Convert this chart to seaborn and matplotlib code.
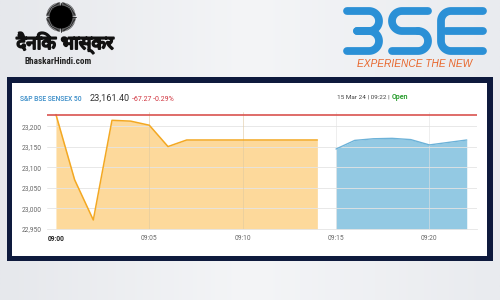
import numpy as np
import pandas as pd
import matplotlib
matplotlib.use("Agg")
import matplotlib.pyplot as plt
import matplotlib.patheffects as pe
import seaborn as sns
from matplotlib.patches import Rectangle, Circle

# ---------------- data ----------------
orange_minutes = [0, 1, 2, 3, 4, 5, 6, 7, 8, 9, 10, 11, 12, 13, 14]
orange_values = [23229, 23070, 22972, 23215, 23213, 23203, 23151, 23167,
                 23167, 23167, 23167, 23167, 23167, 23167, 23167]
blue_minutes = [15, 16, 17, 18, 19, 20, 21, 22]
blue_values = [23145, 23166, 23170, 23171, 23168, 23155, 23161, 23167]
prev_close = 23228.67
y_ticks = [22950, 23000, 23050, 23100, 23150, 23200]
y_tick_labels = ["22,950", "23,000", "23,050", "23,100", "23,150", "23,200"]
x_ticks = [0, 5, 10, 15, 20]
x_tick_labels = ["09:00", "09:05", "09:10", "09:15", "09:20"]
index_name = "S&P BSE SENSEX 50"
index_value = "23,161.40"
index_change = "-67.27 -0.29%"
timestamp = "15 Mar 24 | 09:22 |"
status = "Open"

sns.set_theme(style="white")
plt.rcParams['font.family'] = ['Roboto', 'DejaVu Sans']

W, H = 500, 300
fig = plt.figure(figsize=(5, 3), dpi=100)

# background / decoration axes in pixel coords
bg = fig.add_axes([0, 0, 1, 1])
bg.set_xlim(0, W)
bg.set_ylim(H, 0)
bg.axis("off")
grad = np.linspace(0, 1, 256)[None, :]
bg.imshow(grad, extent=[0, W, H, 0], cmap=matplotlib.colors.LinearSegmentedColormap.from_list(
    "g", ["#E6E8EC", "#F4F5F7", "#E9EBEF"]), aspect="auto", zorder=0)
bg.add_patch(Rectangle((7, 77), 486, 184, facecolor="#0E1A3D", edgecolor="none", zorder=1))
bg.add_patch(Rectangle((12, 83), 475, 173, facecolor="white", edgecolor="none", zorder=2))

# Dainik Bhaskar logo
cx, cy = 61, 17
for a in np.linspace(0, 2 * np.pi, 72, endpoint=False):
    bg.plot([cx + 10 * np.cos(a), cx + 14.5 * np.cos(a)], [cy + 10 * np.sin(a), cy + 14.5 * np.sin(a)],
            color="#000000", lw=0.55, zorder=3)
bg.add_patch(Circle((cx, cy), 11.5, facecolor="#000000", edgecolor="none", zorder=4))
bg.text(65, 43, "दैनिक भास्कर", fontsize=13.5, fontweight="bold", color="#111111",
        ha="center", va="center", zorder=4,
        family=['Noto Sans Devanagari', 'Lohit Devanagari', 'Noto Sans', 'DejaVu Sans'],
        path_effects=[pe.withStroke(linewidth=1.3, foreground="#111111")])
bg.text(58.5, 62, "BhaskarHindi.com", fontsize=6.6, fontweight="bold", color="#222222",
        ha="center", va="center", zorder=4, family=['Roboto Condensed', 'Roboto', 'DejaVu Sans'])

# BSE logo drawn with rounded strokes
blue_logo = "#2B90D6"
lw_logo = 5.6
def stroke(xs, ys):
    bg.plot(xs, ys, color=blue_logo, lw=lw_logo, solid_capstyle="round",
            solid_joinstyle="round", zorder=4)
def arc_pts(xc, yc, r, t0, t1, n=30):
    t = np.linspace(np.radians(t0), np.radians(t1), n)
    return list(xc + r * np.cos(t)), list(yc + r * np.sin(t))
# "3"
ax1, ay1 = arc_pts(369, 21, 10, -90, 90)
stroke([347] + ax1 + [357], [11] + ay1 + [31])
ax2, ay2 = arc_pts(369, 41, 10, -90, 90)
stroke([357] + ax2 + [347], [31] + ay2 + [51])
# "S"
sx1, sy1 = arc_pts(402, 21, 10, -90, -270)
stroke([428] + sx1 + [418], [11] + sy1 + [31])
sx2, sy2 = arc_pts(418, 41, 10, -90, 90)
stroke([418] + sx2 + [392], [31] + sy2 + [51])
# "E"
ex1, ey1 = arc_pts(451, 21, 10, -90, -180)
ex2, ey2 = arc_pts(451, 41, 10, 180, 90)
stroke([483] + ex1 + ex2 + [483], [11] + ey1 + ey2 + [51])
stroke([446, 483], [31, 31])
bg.text(415, 64, "EXPERIENCE THE NEW", fontsize=7.3, style="italic", color="#E8672D",
        ha="center", va="center", zorder=4, family=['Liberation Sans', 'DejaVu Sans'])

# header texts
bg.text(20, 99, index_name, fontsize=4.9, color="#3A8DC8", ha="left", va="center",
        fontweight="medium", zorder=4)
bg.text(90, 98.5, index_value, fontsize=6.6, color="#333333", ha="left", va="center", zorder=4)
bg.text(132, 99.5, index_change, fontsize=5.0, color="#D0313C", ha="left", va="center", zorder=4)
bg.text(337, 97, timestamp, fontsize=4.6, color="#444444", ha="left", va="center", zorder=4)
bg.text(391.5, 97, status, fontsize=5.0, color="#2EA033", ha="left", va="center",
        fontweight="bold", zorder=4)

# ---------------- chart ----------------
ax = fig.add_axes([47 / W, (H - 229) / H, 430 / W, 121 / H])
ax.set_facecolor("none")
ymin, ymax = 22950, 23245
df_o = pd.DataFrame({"minute": orange_minutes, "value": orange_values})
df_b = pd.DataFrame({"minute": blue_minutes, "value": blue_values})
ax.fill_between(df_o["minute"], df_o["value"], ymin, color="#FDD99B", zorder=1, lw=0)
ax.fill_between(df_b["minute"], df_b["value"], ymin, color="#93C9E3", zorder=1, lw=0)
sns.lineplot(data=df_o, x="minute", y="value", ax=ax, color="#F3A822", lw=1.1, zorder=3)
sns.lineplot(data=df_b, x="minute", y="value", ax=ax, color="#6DB2D8", lw=1.0, zorder=3)
ax.axhline(prev_close, color="#D9534F", lw=1.2, zorder=4)

ax.set_xlim(-0.48, 22.55)
ax.set_ylim(ymin, ymax)
ax.set_yticks(y_ticks)
ax.set_yticklabels(y_tick_labels)
ax.set_xticks(x_ticks)
ax.set_xticklabels(x_tick_labels)
ax.tick_params(axis="both", length=0, labelsize=4.8, colors="#666666")
ax.tick_params(axis="x", pad=4)
ax.tick_params(axis="y", pad=4)
ax.get_xticklabels()[0].set_fontweight("bold")
ax.get_xticklabels()[0].set_color("#222222")
ax.set_xlabel("")
ax.set_ylabel("")
for yv in y_ticks[1:]:
    ax.axhline(yv, color="#E4E4E4", lw=0.6, zorder=2)
for xv in x_ticks[1:]:
    ax.plot([xv, xv], [ymin, 23235], color="#E0C9A0" if xv < 14 else "#E2E2E2",
            lw=0.5, zorder=2, alpha=0.8)
for s in ["top", "right", "left"]:
    ax.spines[s].set_visible(False)
ax.spines["bottom"].set_color("#E4E4E4")
ax.spines["bottom"].set_linewidth(0.6)

fig.savefig("out.png", dpi=100)
